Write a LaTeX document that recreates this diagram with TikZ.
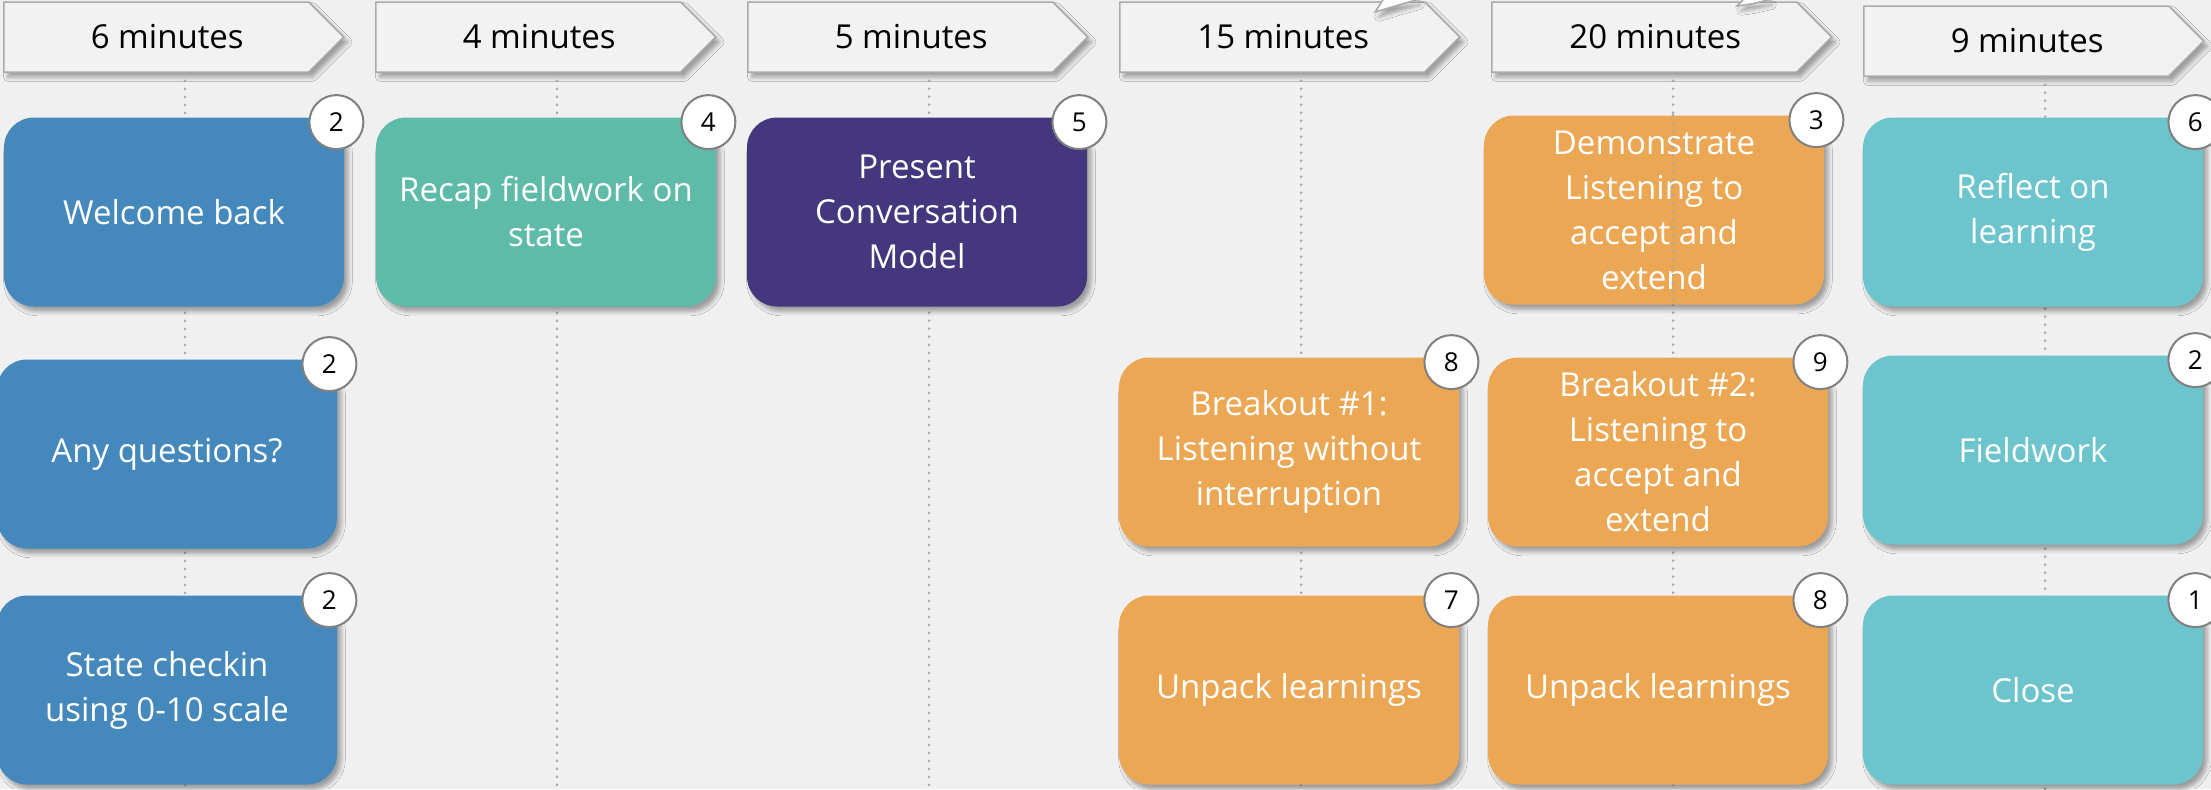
\documentclass[tikz,border=0pt]{standalone}
\usepackage{fontspec}
\setmainfont{Open Sans}
\usetikzlibrary{shapes.symbols,shadows.blur,positioning}
\definecolor{hinter}{RGB}{240,240,240}
\definecolor{kopfgrau}{RGB}{242,242,242}
\definecolor{rand}{RGB}{170,170,170}
\definecolor{blau}{RGB}{69,137,188}
\definecolor{gruen}{RGB}{93,187,167}
\definecolor{lila}{RGB}{69,55,125}
\definecolor{ocker}{RGB}{236,167,84}
\definecolor{tuerkis}{RGB}{108,196,204}

\begin{document}
\begin{tikzpicture}[x=0.5pt,y=-0.5pt,
	schatten/.style={blur shadow={shadow xshift=2pt,shadow yshift=-2.5pt,shadow opacity=35}},
	kopf/.style={signal,signal to=east,signal pointer angle=90,draw=rand,line width=0.75pt,
		fill=kopfgrau,minimum width=170pt,minimum height=35pt,inner sep=0pt,anchor=west,
		font=\fontsize{16.5}{20}\selectfont,execute at begin node=\hspace*{11pt},schatten},
	karte/.style={rounded corners=15pt,minimum width=170pt,minimum height=94.5pt,
		text=white,align=center,inner sep=0pt,font=\fontsize{16.5}{22.5}\selectfont,schatten},
	nummer/.style={circle,draw=gray,line width=1pt,fill=white,minimum size=27pt,
		inner sep=0pt,font=\fontsize{13}{13}\selectfont},
	punktlinie/.style={rand,line width=1.5pt,line cap=round,dash pattern=on 0pt off 4pt}]

\fill[hinter] (0,0) rectangle (2211,789);
\useasboundingbox (0,0) rectangle (2211,789);
\coordinate (unten) at (0,789);

% Zeitleiste
\node[kopf] (k1) at (3,37) {6 minutes};
\node[kopf] (k2) at (375,37) {4 minutes};
\node[kopf] (k3) at (747,37) {5 minutes};
\node[kopf] (k4) at (1119,37) {15 minutes};
\node[kopf] (k5) at (1491,37) {20 minutes};
\node[kopf] (k6) at (1863,41) {9 minutes};

% Zipfel oben
\fill[white,schatten] (1375,12) -- (1383,0) -- (1416,0) -- (1395,6) -- cycle;
\draw[rand,line width=0.75pt] (1383,0) -- (1375,12) -- (1395,6) -- (1416,0);
\fill[white,schatten] (1737,6) -- (1743,0) -- (1768,0) -- (1751,4) -- cycle;
\draw[rand,line width=0.75pt] (1743,0) -- (1737,6) -- (1751,4) -- (1768,0);

\foreach \k in {1,...,6}{
	\path ([xshift=91pt]k\k.west) coordinate (s\k);
	\draw[punktlinie] (s\k |- k\k.south) -- (s\k |- unten);
}

\def\karte#1#2#3#4#5{
	\node[karte,fill=#2] (#1) at #3 {#4};
	\node[nummer] (#1n) at ([xshift=-4pt,yshift=-2.5pt]#1.north east) {#5};
}
\karte{wb}{blau}{(174,212)}{Welcome back}{2}
\karte{aq}{blau}{(167,454)}{Any questions?}{2}
\karte{sc}{blau}{(167,690)}{State checkin\\using 0-10 scale}{2}
\karte{rf}{gruen}{(546,212)}{Recap fieldwork on\\state}{4}
\karte{pc}{lila}{(917,212)}{Present\\Conversation\\Model}{5}
\karte{bo1}{ocker}{(1289,452)}{Breakout \#1:\\Listening without\\interruption}{8}
\karte{ul1}{ocker}{(1289,690)}{Unpack learnings}{7}
\karte{dl}{ocker}{(1654,210)}{Demonstrate\\Listening to\\accept and\\extend}{3}
\karte{bo2}{ocker}{(1658,452)}{Breakout \#2:\\Listening to\\accept and\\extend}{9}
\karte{ul2}{ocker}{(1658,690)}{Unpack learnings}{8}
\karte{rl}{tuerkis}{(2033,212)}{Reflect on\\learning}{6}
\karte{fw}{tuerkis}{(2033,450)}{Fieldwork}{2}
\karte{cl}{tuerkis}{(2033,690)}{Close}{1}

\draw[punktlinie] (s5 |- dl.north) -- (s5 |- dl.south);

\end{tikzpicture}
\end{document}
